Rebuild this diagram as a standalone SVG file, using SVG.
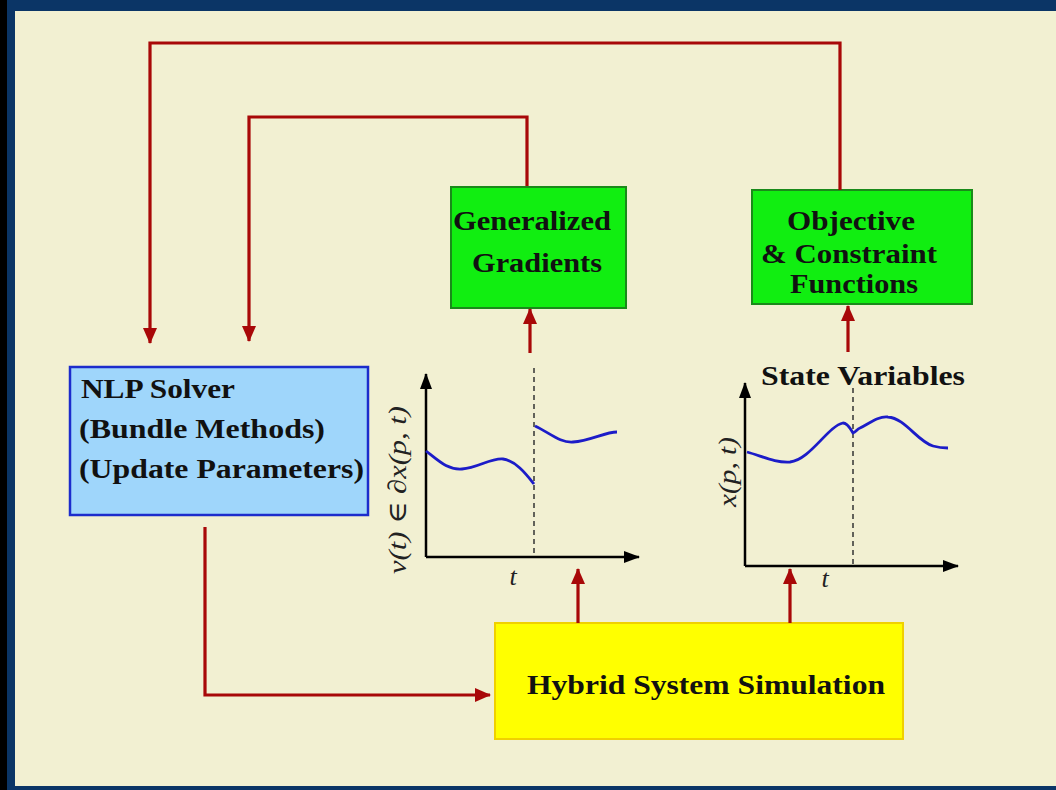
<svg xmlns="http://www.w3.org/2000/svg" width="1056" height="790" viewBox="0 0 1056 790">
<defs>
<marker id="ar" markerUnits="userSpaceOnUse" markerWidth="16" markerHeight="14" refX="15" refY="7" orient="auto"><path d="M0,0 L16,7 L0,14 Z" fill="#a80808"/></marker>
<marker id="ak" markerUnits="userSpaceOnUse" markerWidth="16" markerHeight="12" refX="15" refY="6" orient="auto"><path d="M0,0 L16,6 L0,12 Z" fill="#000"/></marker>
<style>
.bt{font-family:"Liberation Serif","DejaVu Serif",serif;font-weight:bold;font-size:27px;fill:#111}
.mt{font-family:"Liberation Serif","DejaVu Serif",serif;font-style:italic;font-size:26px;fill:#222}
.cn{fill:none;stroke:#a80808;stroke-width:3.2}
.ax{fill:none;stroke:#000;stroke-width:2.5}
.cv{fill:none;stroke:#1c1cc8;stroke-width:2.8}
.ds{fill:none;stroke:#333;stroke-width:1.5;stroke-dasharray:5,4}
</style>
</defs>
<rect x="0" y="0" width="1056" height="790" fill="#0b3566"/>
<rect x="0" y="0" width="7" height="790" fill="#000"/>
<rect x="15" y="11" width="1041" height="775" fill="#f2f0d2"/>

<g id="nlp">
<rect x="70" y="367" width="298" height="148" fill="#9fd6fb" stroke="#1c2ccc" stroke-width="2.5"/>
<text class="bt" x="81" y="398" textLength="154" lengthAdjust="spacingAndGlyphs">NLP Solver</text>
<text class="bt" x="79" y="438" textLength="246" lengthAdjust="spacingAndGlyphs">(Bundle Methods)</text>
<text class="bt" x="79" y="478" textLength="285" lengthAdjust="spacingAndGlyphs">(Update Parameters)</text>
</g>

<g id="gradients">
<rect x="451" y="187" width="175" height="121" fill="#11ee11" stroke="#1a8a1a" stroke-width="2"/>
<text class="bt" x="453" y="230" textLength="158" lengthAdjust="spacingAndGlyphs">Generalized</text>
<text class="bt" x="472" y="272" textLength="130" lengthAdjust="spacingAndGlyphs">Gradients</text>
</g>

<g id="objective">
<rect x="752" y="190" width="220" height="114" fill="#11ee11" stroke="#1a8a1a" stroke-width="2"/>
<text class="bt" x="787" y="230" textLength="128" lengthAdjust="spacingAndGlyphs">Objective</text>
<text class="bt" x="761" y="263" textLength="176" lengthAdjust="spacingAndGlyphs">&amp; Constraint</text>
<text class="bt" x="790" y="293" textLength="128" lengthAdjust="spacingAndGlyphs">Functions</text>
</g>

<g id="hybrid">
<rect x="495" y="623" width="408" height="116" fill="#ffff00" stroke="#f0d000" stroke-width="2"/>
<text class="bt" x="527" y="694" textLength="358" lengthAdjust="spacingAndGlyphs">Hybrid System Simulation</text>
</g>

<g id="plot-gradient">
<line class="ds" x1="534" y1="368" x2="534" y2="557"/>
<path class="ax" d="M426,557 L426,374" marker-end="url(#ak)"/>
<path class="ax" d="M426,557 L639,557" marker-end="url(#ak)"/>
<path class="cv" d="M426,451 C440,462 448,470 462,469 C478,468 490,458 503,459 C516,461 526,474 534,484"/>
<path class="cv" d="M535,426 C550,433 560,443 573,442 C590,441 605,432 617,432"/>
<text class="mt" x="513" y="585" text-anchor="middle">t</text>
<text class="mt" transform="translate(406,490) rotate(-90)" text-anchor="middle" textLength="168" lengthAdjust="spacingAndGlyphs">v(t) ∈ ∂x(p, t)</text>
</g>

<g id="plot-state">
<text class="bt" x="761" y="385" textLength="204" lengthAdjust="spacingAndGlyphs">State Variables</text>
<line class="ds" x1="853" y1="388" x2="853" y2="566"/>
<path class="ax" d="M745,566 L745,383" marker-end="url(#ak)"/>
<path class="ax" d="M745,566 L958,566" marker-end="url(#ak)"/>
<path class="cv" d="M747,452 C762,456 775,463 790,462 C810,460 828,426 843,423 C848,423 851,430 853,433 C856,432 857,429 860,428 C870,423 878,416 888,417 C905,418 918,442 933,446 C940,448 944,448 948,448"/>
<text class="mt" x="825" y="587" text-anchor="middle">t</text>
<text class="mt" transform="translate(736,472) rotate(-90)" text-anchor="middle" textLength="70" lengthAdjust="spacingAndGlyphs">x(p, t)</text>
</g>

<g id="connectors">
<path class="cn" d="M840,190 L840,43 L150,43 L150,343" marker-end="url(#ar)"/>
<path class="cn" d="M527,186 L527,117 L249,117 L249,341" marker-end="url(#ar)"/>
<path class="cn" d="M205,527 L205,695 L490,695" marker-end="url(#ar)"/>
<path class="cn" d="M578,623 L578,569" marker-end="url(#ar)"/>
<path class="cn" d="M790,623 L790,569" marker-end="url(#ar)"/>
<path class="cn" d="M530,353 L530,309" marker-end="url(#ar)"/>
<path class="cn" d="M848,352 L848,306" marker-end="url(#ar)"/>
</g>
</svg>
